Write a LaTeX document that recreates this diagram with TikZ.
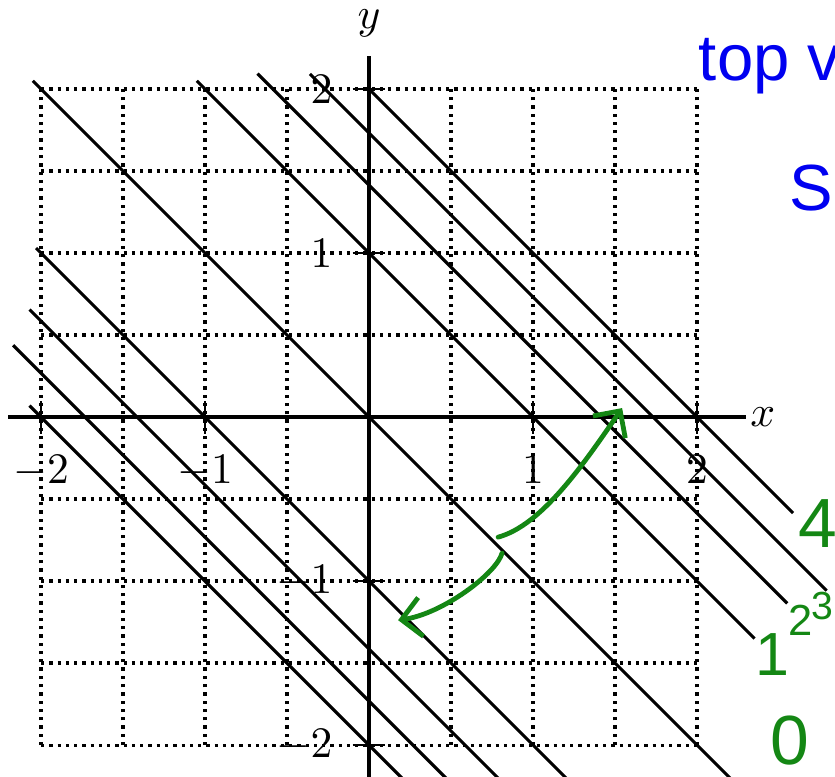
\documentclass[tikz,border=0pt]{standalone}
\usepackage{fontspec}
\usepackage{tikz}
\usetikzlibrary{arrows.meta}
\newfontfamily\handfont{Liberation Sans}
\definecolor{penblue}{RGB}{0,0,240}
\definecolor{pengreen}{RGB}{20,135,20}

\begin{document}
\begin{tikzpicture}[
    x=1.325cm, y=1.325cm,
    gridline/.style={line width=0.75pt, dash pattern=on 0.75pt off 1.15pt},
    axis/.style={line width=1pt},
    tick/.style={line width=0.4pt},
    level/.style={line width=0.7pt},
    greenmark/.style={text=pengreen, inner sep=0pt, font=\handfont\fontsize{16}{16}\selectfont},
    bluemark/.style={text=penblue, inner sep=0pt, font=\handfont\fontsize{15}{15}\selectfont},
    pen/.style={draw=pengreen, line width=1.1pt, line cap=round, -{Straight Barb[length=4.5pt, width=9pt]}}
]

% Frame
\useasboundingbox (-2.25,-2.189) rectangle (2.841,2.543);
\clip (-2.25,-2.189) rectangle (2.841,2.543);

% Grid
\draw[gridline] (-2,-2) grid[step=0.5] (2,2);

% Level lines x+y=c
\foreach \c/\a/\b in {0/-2.05/2.6, 1/-1.05/2.35, 1.414/-0.68/2.55, 1.732/-0.36/2.79, 2/0/2.585,
    -1/-2.03/1.5, -1.414/-2.07/1.2, -1.732/-2.17/1.0, -2/-2.07/0.8}
  \draw[level] (\a,{\c-(\a)}) -- (\b,{\c-(\b)});

% Axes
\draw[axis] (-2.2,0) -- (2.3,0);
\draw[axis] (0,-2.3) -- (0,2.2);
\node (xlab) at (2.40,0) {$x$};
\node (ylab) at (0,2.40) {$y$};

% Ticks and labels
\foreach \t [count=\i] in {-2,-1,1,2} {
  \draw[tick] (\t,-0.1) -- (\t,0.1);
  \draw[tick] (-0.1,\t) -- (0.1,\t);
  \node[anchor=north] (xt\i) at (\t,-0.14) {$\t$};
  \node[anchor=east] (yt\i) at (-0.13,\t) {$\t$};
}

% Handwritten level values
\node[greenmark] (lv4) at (2.738,-0.646) {4};
\node[greenmark, anchor=east, font=\handfont\fontsize{9}{9}\selectfont] (lv3) at (2.836,-1.15) {3};
\node[greenmark, font=\handfont\fontsize{10}{10}\selectfont] (lv2) at (2.63,-1.238) {2};
\node[greenmark, font=\handfont\fontsize{14}{14}\selectfont] (lv1) at (2.46,-1.45) {1};
\node[greenmark, anchor=south] (lv0) at (2.567,-2.13) {0};

% Handwritten notes
\node[bluemark, anchor=base west] (note1) at (2.006,2.055) {top v};
\node[bluemark, anchor=base east] (note2) at (2.832,1.262) {S};

% Green arrows
\coordinate (upstart) at (0.787,-0.732);
\coordinate (uptip) at (1.543,0.055);
\coordinate (downstart) at (0.811,-0.829);
\coordinate (downtip) at (0.177,-1.238);
\draw[pen] (upstart) .. controls (1.05,-0.66) and (1.30,-0.30) .. (uptip);
\draw[pen] (downstart) .. controls (0.78,-0.95) and (0.45,-1.2) .. (downtip);

\end{tikzpicture}
\end{document}
